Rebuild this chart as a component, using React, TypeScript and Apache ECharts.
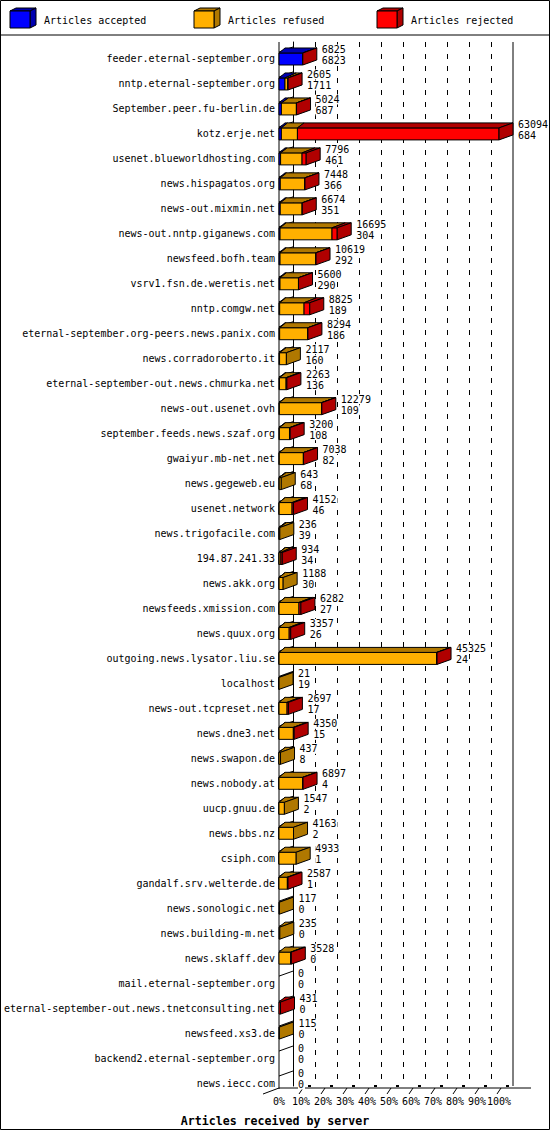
import { useEffect, useRef } from "react";
import * as echarts from "echarts";

// servers, sorted by accepted articles (as in the report)
const servers = [
  "feeder.eternal-september.org",
  "nntp.eternal-september.org",
  "September.peer.fu-berlin.de",
  "kotz.erje.net",
  "usenet.blueworldhosting.com",
  "news.hispagatos.org",
  "news-out.mixmin.net",
  "news-out.nntp.giganews.com",
  "newsfeed.bofh.team",
  "vsrv1.fsn.de.weretis.net",
  "nntp.comgw.net",
  "eternal-september.org-peers.news.panix.com",
  "news.corradoroberto.it",
  "eternal-september-out.news.chmurka.net",
  "news-out.usenet.ovh",
  "september.feeds.news.szaf.org",
  "gwaiyur.mb-net.net",
  "news.gegeweb.eu",
  "usenet.network",
  "news.trigofacile.com",
  "194.87.241.33",
  "news.akk.org",
  "newsfeeds.xmission.com",
  "news.quux.org",
  "outgoing.news.lysator.liu.se",
  "localhost",
  "news-out.tcpreset.net",
  "news.dne3.net",
  "news.swapon.de",
  "news.nobody.at",
  "uucp.gnuu.de",
  "news.bbs.nz",
  "csiph.com",
  "gandalf.srv.welterde.de",
  "news.sonologic.net",
  "news.building-m.net",
  "news.sklaff.dev",
  "mail.eternal-september.org",
  "eternal-september-out.news.tnetconsulting.net",
  "newsfeed.xs3.de",
  "backend2.eternal-september.org",
  "news.iecc.com",
];

const accepted = [
  6823, 1711, 687, 684, 461, 366, 351, 304, 292, 290, 189, 186, 160, 136, 109, 108, 82, 68, 46, 39, 34,
  30, 27, 26, 24, 19, 17, 15, 8, 4, 2, 2, 1, 1, 0, 0, 0, 0, 0, 0, 0, 0,
];
const refused = [
  0, 850, 4300, 4600, 6150, 7050, 6300, 14900, 10300, 5290, 7000, 8080, 1957, 1900, 12100, 2900, 6900, 575,
  3706, 197, 500, 1158, 5700, 2900, 45200, 2, 2300, 4100, 429, 6800, 1545, 4161, 4932, 2400, 117, 235, 3350,
  0, 0, 115, 0, 0,
];
const rejected = [
  2, 44, 37, 57810, 1185, 32, 23, 1491, 27, 20, 1636, 28, 0, 227, 70, 192, 56, 0, 400, 0, 400, 0, 555, 431,
  101, 0, 380, 235, 0, 93, 0, 0, 0, 186, 0, 0, 178, 0, 431, 0, 0, 0,
];

const seriesNames = ["Articles accepted", "Articles refused", "Articles rejected"];

const FONT = "'DejaVu Sans Mono', monospace";
const FRONT = ["#0000ff", "#ffb000", "#ff0000"];
const DARK = ["#0000b0", "#b07800", "#b00000"];
const BAR_H = 12;
const DX = 14;
const DY = 5;

const totals = servers.map((_, i) => accepted[i] + refused[i] + rejected[i]);
const maxTotal = Math.max(...totals);

function renderBar(_params: any, api: any) {
  const i = api.value(0);
  const vals = [api.value(1), api.value(2), api.value(3)];
  const total = vals[0] + vals[1] + vals[2];
  const pct = (v: number) => (v / maxTotal) * 100;
  const [x0, yc] = api.coord([0, i]);
  const xEnd = api.coord([pct(total), i])[0];
  const yT = yc - BAR_H / 2;
  const yB = yc + BAR_H / 2;
  const line = { stroke: "#000", lineWidth: 1 };
  const children: any[] = [
    // row line on the left wall
    { type: "line", shape: { x1: x0, y1: yc - 7, x2: x0 + DX, y2: yc - 7 - DY }, style: line },
  ];
  const off = (x: number) => (xEnd - x0 > 0.5 ? 6 + (8 * (x - x0)) / (xEnd - x0) : DX);
  let cum = 0;
  let lastK = -1;
  for (let k = 0; k < 3; k++) {
    if (vals[k] <= 0) continue;
    const a = api.coord([pct(cum), i])[0];
    cum += vals[k];
    const b = api.coord([pct(cum), i])[0];
    children.push({
      type: "rect",
      shape: { x: a, y: yT, width: b - a, height: BAR_H },
      style: { fill: FRONT[k], ...line },
    });
    children.push({
      type: "polygon",
      shape: { points: [[a, yT], [a + off(a), yT - DY], [b + off(b), yT - DY], [b, yT]] },
      style: { fill: DARK[k], ...line },
    });
    lastK = k;
  }
  if (lastK >= 0) {
    children.push({
      type: "polygon",
      shape: { points: [[xEnd, yT], [xEnd + DX, yT - DY], [xEnd + DX, yB - DY], [xEnd, yB]] },
      style: { fill: DARK[lastK], ...line },
    });
  }
  const txt = (t: string, y: number) => ({
    type: "text",
    style: {
      text: t,
      x: xEnd + 19,
      y,
      fill: "#000",
      fontSize: 10,
      fontFamily: FONT,
      textAlign: "left",
      verticalAlign: "middle",
      textVerticalAlign: "middle",
      backgroundColor: "#fff",
      padding: [0, 1, 0, 0],
    },
  });
  children.push(txt(String(total), yc - 9.5));
  children.push(txt(String(vals[0]), yc + 1.5));
  return { type: "group", children };
}

function legendBox(x: number, k: number) {
  const s = { stroke: "#000", lineWidth: 1 };
  return [
    { type: "polygon", shape: { points: [[x, 11], [x + 6, 8], [x + 26, 8], [x + 20, 11]] }, style: { fill: DARK[k], ...s } },
    { type: "polygon", shape: { points: [[x + 20, 11], [x + 26, 8], [x + 26, 25], [x + 20, 28]] }, style: { fill: DARK[k], ...s } },
    { type: "rect", shape: { x, y: 11, width: 20, height: 17 }, style: { fill: FRONT[k], ...s } },
    {
      type: "text",
      style: { text: seriesNames[k], x: x + 34, y: 20, fill: "#000", font: `10px ${FONT}`, verticalAlign: "middle", textVerticalAlign: "middle" },
    },
  ];
}

export default function App() {
  const ref = useRef<HTMLDivElement>(null);

  useEffect(() => {
    if (!ref.current) return;
    const chart = echarts.init(ref.current, undefined, { renderer: "svg" });
    const ln = (x1: number, y1: number, x2: number, y2: number) => ({
      type: "line",
      shape: { x1, y1, x2, y2 },
      style: { stroke: "#000", lineWidth: 1 },
      z: 5,
    });
    const floorTicks: any[] = [];
    for (let k = 1; k <= 10; k++) {
      const x = 279 + 22 * k;
      floorTicks.push(ln(x - 2, 1094, x + 2, 1088));
      floorTicks.push({ type: "rect", shape: { x: x + 7, y: 1085, width: 3, height: 2 }, style: { fill: "#000" }, z: 5 });
    }
    chart.setOption({
      animation: false,
      backgroundColor: "#fff",
      title: {
        text: "Articles received by server",
        left: "center",
        top: 1110,
        textStyle: { fontFamily: FONT, fontWeight: "bold", fontSize: 11.6, color: "#000" },
      },
      grid: [
        { left: 279, top: 46.5, width: 220, height: 1049 },
        { left: 293, top: 42, width: 220, height: 1044 },
      ],
      xAxis: [
        {
          gridIndex: 0,
          type: "value",
          min: 0,
          max: 100,
          interval: 10,
          axisLine: { show: false },
          axisTick: { show: false },
          splitLine: { show: false },
          axisLabel: { formatter: "{value}%", margin: 1, color: "#000", fontSize: 10, fontFamily: FONT },
        },
        {
          gridIndex: 1,
          type: "value",
          min: 0,
          max: 100,
          interval: 10,
          axisLine: { show: false },
          axisTick: { show: false },
          axisLabel: { show: false },
          splitLine: {
            show: true,
            showMinLine: false,
            showMaxLine: false,
            lineStyle: { color: "#000", width: 1, type: [5, 7] },
          },
        },
      ],
      yAxis: [
        {
          gridIndex: 0,
          type: "category",
          inverse: true,
          data: servers,
          axisLine: { show: false },
          axisTick: { show: false },
          splitLine: { show: false },
          axisLabel: { margin: 4, color: "#000", fontSize: 10, fontFamily: FONT, interval: 0 },
        },
        {
          gridIndex: 1,
          type: "value",
          min: 0,
          max: 1,
          axisLine: { show: true, lineStyle: { color: "#000", width: 1 } },
          axisTick: { show: false },
          axisLabel: { show: false },
          splitLine: { show: false },
        },
      ],
      series: [
        {
          type: "custom",
          xAxisIndex: 0,
          yAxisIndex: 0,
          renderItem: renderBar,
          encode: { x: [1, 2, 3], y: 0 },
          data: servers.map((_, i) => [i, accepted[i], refused[i], rejected[i]]),
          z: 10,
        },
      ],
      graphic: [
        { type: "rect", shape: { x: 0.5, y: 0.5, width: 549, height: 1129 }, style: { fill: "none", stroke: "#000", lineWidth: 1 }, z: 20 },
        ln(0, 35, 550, 35),
        ...legendBox(10, 0),
        ...legendBox(194, 1),
        ...legendBox(377, 2),
        ln(279, 42, 279, 1089),
        ln(513, 42, 513, 1086),
        ln(263, 1094, 279, 1088),
        ln(279, 1088, 531, 1088),
        ...floorTicks,
      ],
    });
    return () => chart.dispose();
  }, []);

  return <div ref={ref} style={{ position: "absolute", left: 0, top: 0, width: 550, height: 1130 }} />;
}
